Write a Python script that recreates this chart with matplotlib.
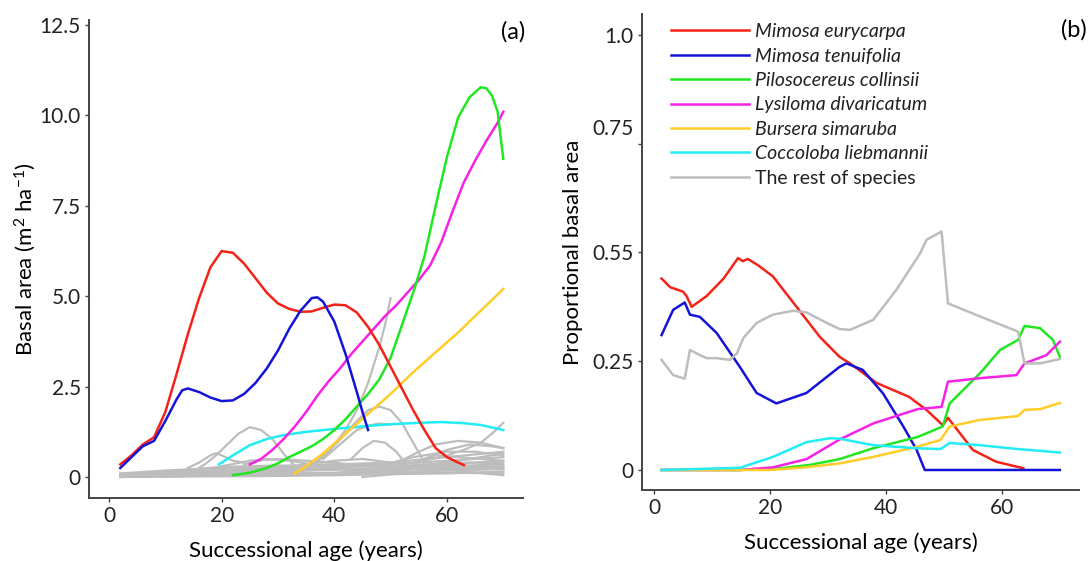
import numpy as np
import matplotlib.pyplot as plt
import matplotlib.transforms as mtransforms

plt.rcParams['font.family'] = ['Lato', 'DejaVu Sans']
plt.rcParams['mathtext.fontset'] = 'custom'
plt.rcParams['mathtext.rm'] = 'Lato'
plt.rcParams['mathtext.it'] = 'Lato:italic'

# ---------------- panel (a): basal area (m2/ha) ----------------
red_age = [2, 4, 6, 8, 10, 12, 14, 16, 18, 20, 22, 24, 26, 28, 30, 32, 34, 36, 38, 40, 42,
           44, 46, 48, 50, 52, 54, 56, 58, 60, 62, 63]
red_ba = [0.35, 0.6, 0.9, 1.1, 1.8, 2.85, 3.95, 4.95, 5.8, 6.25, 6.2, 5.9, 5.5, 5.1, 4.8,
          4.65, 4.57, 4.58, 4.68, 4.77, 4.75, 4.55, 4.15, 3.65, 3.05, 2.45, 1.85, 1.3,
          0.8, 0.55, 0.4, 0.33]
blue_age = [2, 4, 6, 8, 10, 12, 13, 14, 16, 18, 20, 22, 24, 26, 28, 30, 32, 34, 36, 37, 38,
            40, 42, 44, 45, 46]
blue_ba = [0.25, 0.55, 0.85, 1.0, 1.55, 2.15, 2.4, 2.45, 2.35, 2.2, 2.1, 2.12, 2.3, 2.6, 3.0,
           3.5, 4.1, 4.6, 4.95, 4.97, 4.85, 4.3, 3.4, 2.35, 1.8, 1.3]
green_age = [22, 25, 28, 30, 32, 34, 36, 38, 40, 42, 44, 46, 48, 50, 52, 54, 56, 58, 60, 62,
             64, 66, 67, 68, 69, 70]
green_ba = [0.05, 0.12, 0.25, 0.38, 0.55, 0.7, 0.85, 1.05, 1.3, 1.6, 1.95, 2.3, 2.7, 3.3, 4.2,
            5.1, 6.1, 7.5, 8.85, 9.95, 10.5, 10.78, 10.75, 10.55, 10.1, 8.8]
mag_age = [25, 27, 29, 31, 33, 35, 37, 39, 41, 43, 45, 47, 49, 51, 53, 55, 57, 59, 61, 63,
           65, 67, 69, 70]
mag_ba = [0.35, 0.5, 0.75, 1.05, 1.4, 1.8, 2.25, 2.65, 3.0, 3.4, 3.75, 4.1, 4.45, 4.75, 5.1,
          5.45, 5.85, 6.5, 7.35, 8.15, 8.75, 9.3, 9.8, 10.1]
yel_age = [33, 35, 38, 42, 46, 50, 54, 58, 62, 66, 70]
yel_ba = [0.1, 0.3, 0.65, 1.2, 1.75, 2.3, 2.9, 3.45, 4.0, 4.6, 5.2]
cyan_age = [19.5, 22, 25, 28, 31, 35, 40, 45, 50, 55, 59, 63, 66, 70]
cyan_ba = [0.35, 0.6, 0.88, 1.05, 1.16, 1.25, 1.33, 1.4, 1.46, 1.5, 1.52, 1.49, 1.44, 1.3]

# the rest of species (grey), one (ages, values) pair per species
rest_a = [
    ([15, 17, 19, 21, 23, 25, 27, 29, 31, 33], [0.15, 0.35, 0.6, 0.9, 1.2, 1.38, 1.3, 1.05, 0.65, 0.3]),
    ([14, 16, 18, 19, 20, 22, 24], [0.25, 0.4, 0.6, 0.66, 0.6, 0.45, 0.4]),
    ([34, 37, 40, 42, 44, 46, 48, 49, 50], [0.2, 0.45, 0.9, 1.3, 1.85, 2.6, 3.6, 4.2, 4.95]),
    ([36, 39, 42, 44, 46, 48, 50, 52, 54, 56], [0.3, 0.7, 1.2, 1.55, 1.85, 1.95, 1.85, 1.5, 0.95, 0.4]),
    ([38, 41, 44, 46, 48, 50], [0.5, 0.9, 1.3, 1.42, 1.48, 1.45]),
    ([43, 45, 47, 49, 51, 53], [0.5, 0.8, 1.0, 0.95, 0.7, 0.3]),
    ([56, 60, 63, 66, 68, 70], [0.45, 0.6, 0.75, 0.95, 1.2, 1.5]),
    ([50, 55, 58, 62, 66, 70], [0.3, 0.7, 0.9, 1.0, 0.95, 0.8]),
    ([52, 56, 60, 64, 68, 70], [0.2, 0.5, 0.75, 0.9, 0.85, 0.8]),
    ([48, 54, 60, 65, 70], [0.3, 0.55, 0.7, 0.7, 0.6]),
    ([54, 58, 62, 66, 70], [0.4, 0.6, 0.55, 0.5, 0.45]),
    ([20, 25, 30, 35, 40, 45], [0.3, 0.45, 0.5, 0.45, 0.4, 0.3]),
    ([24, 28, 32, 36, 40], [0.35, 0.5, 0.45, 0.35, 0.2]),
    ([30, 35, 40, 45, 50, 55], [0.2, 0.35, 0.45, 0.5, 0.4, 0.25]),
    ([2, 10, 20, 30, 40, 50, 60, 70], [0.02, 0.05, 0.1, 0.15, 0.2, 0.25, 0.3, 0.35]),
    ([2, 10, 20, 30, 40, 50, 60, 70], [0.0, 0.02, 0.05, 0.08, 0.12, 0.18, 0.25, 0.3]),
    ([2, 10, 20, 30, 40, 50, 60, 70], [0.05, 0.1, 0.2, 0.25, 0.3, 0.35, 0.45, 0.55]),
    ([2, 10, 20, 30, 40, 50, 60, 70], [0.0, 0.01, 0.02, 0.03, 0.05, 0.08, 0.1, 0.15]),
    ([2, 10, 20, 30, 40, 50, 60, 70], [0.08, 0.15, 0.28, 0.32, 0.25, 0.2, 0.4, 0.65]),
    ([2, 10, 20, 30, 40, 50, 60, 70], [0.03, 0.06, 0.12, 0.2, 0.22, 0.15, 0.12, 0.1]),
    ([2, 10, 20, 30, 40, 50, 60, 70], [0.01, 0.03, 0.07, 0.1, 0.1, 0.12, 0.18, 0.22]),
    ([2, 10, 20, 30, 40, 50, 60, 70], [0.06, 0.12, 0.18, 0.22, 0.28, 0.3, 0.2, 0.05]),
    ([2, 10, 20, 30, 40, 50, 60, 70], [0.1, 0.18, 0.25, 0.3, 0.35, 0.28, 0.25, 0.22]),
    ([2, 8, 16, 24, 32, 40], [0.0, 0.04, 0.1, 0.18, 0.15, 0.05]),
    ([10, 20, 30, 40, 50, 60, 70], [0.0, 0.1, 0.3, 0.35, 0.4, 0.55, 0.7]),
    ([30, 40, 50, 60, 70], [0.05, 0.1, 0.2, 0.35, 0.45]),
    ([40, 48, 56, 64, 70], [0.1, 0.25, 0.35, 0.4, 0.38]),
    ([45, 52, 58, 64, 70], [0.0, 0.1, 0.2, 0.25, 0.28]),
]

# ---------------- panel (b): proportional basal area ----------------
red_bage = [1.3, 2.8, 5.0, 5.6, 6.5, 9.1, 12, 14.5, 15.3, 16.2, 18, 20.5, 24, 28.6, 32, 33.8,
            38.4, 44, 47, 49.8, 50.7, 55, 59, 63.7]
red_prop = [0.44, 0.42, 0.41, 0.40, 0.375, 0.40, 0.44, 0.487, 0.48, 0.485, 0.47, 0.445, 0.385,
            0.306, 0.26, 0.245, 0.2, 0.168, 0.138, 0.103, 0.12, 0.046, 0.019, 0.004]
blue_bage = [1.3, 3.3, 5.3, 6.2, 7.9, 10.8, 14.8, 17.7, 21.1, 26.3, 32, 33.2, 36, 39.5, 43,
             45.3, 46.7, 70]
blue_prop = [0.31, 0.368, 0.385, 0.357, 0.352, 0.315, 0.237, 0.177, 0.153, 0.177, 0.237, 0.245,
             0.23, 0.176, 0.1, 0.046, 0.0, 0.0]
grey_bage = [1.3, 3.3, 5.3, 6.2, 7.9, 9.1, 10.8, 13.1, 14.3, 15.4, 17.7, 20.5, 24, 26.3, 29.8,
             32, 33.8, 37.8, 41.8, 45.9, 47, 49.6, 50.7, 56.2, 62.8, 63.9, 66.6, 70]
grey_prop = [0.253, 0.218, 0.21, 0.276, 0.264, 0.257, 0.257, 0.253, 0.268, 0.303, 0.338, 0.357,
             0.366, 0.362, 0.338, 0.324, 0.322, 0.345, 0.414, 0.498, 0.529, 0.548, 0.383, 0.353,
             0.318, 0.245, 0.245, 0.255]
green_bage = [1.3, 15, 22, 27, 32, 37.8, 45.5, 49.8, 51, 56.2, 59.7, 62.8, 63.9, 66.6, 68.8, 70]
green_prop = [0.0, 0.0, 0.004, 0.012, 0.025, 0.05, 0.076, 0.1, 0.153, 0.222, 0.276, 0.299, 0.331,
              0.326, 0.299, 0.26]
mag_bage = [1.3, 14.8, 20.5, 26.3, 32, 37.8, 45.5, 49.6, 50.7, 56.2, 62.5, 63.9, 67.7, 70]
mag_prop = [0.0, 0.0, 0.006, 0.025, 0.07, 0.107, 0.14, 0.145, 0.203, 0.211, 0.218, 0.245, 0.264,
            0.295]
yel_bage = [1.3, 20, 26, 32, 37.8, 45.3, 49.4, 51, 56.2, 62.8, 63.9, 66.6, 70]
yel_prop = [0.0, 0.0, 0.006, 0.015, 0.03, 0.053, 0.069, 0.1, 0.115, 0.124, 0.138, 0.14, 0.154]
cyan_bage = [1.3, 14.8, 20.5, 26.3, 30.3, 32, 37.8, 45.3, 49.4, 51, 56.2, 62.8, 66.6, 70]
cyan_prop = [0.0, 0.005, 0.03, 0.064, 0.073, 0.072, 0.057, 0.05, 0.048, 0.062, 0.057, 0.048,
             0.044, 0.04]

species = ['Mimosa eurycarpa', 'Mimosa tenuifolia', 'Pilosocereus collinsii',
           'Lysiloma divaricatum', 'Bursera simaruba', 'Coccoloba liebmannii', 'The rest of species']
colors = ['#f52218', '#1414d8', '#22e622', '#f522e6', '#ffcc2a', '#22ecf5', '#bdbdbd']

yticks_b = [0, 0.25, 0.5, 0.75, 1.0]
yticklabels_b = ['0', '0.25', '0.55', '0.75', '1.0']

fig = plt.figure(figsize=(10.89, 5.61), dpi=100)
axa = fig.add_axes([89/1089, 1-498/561, 434/1089, 478/561])
axb = fig.add_axes([642/1089, 1-490/561, 437/1089, 476/561])

for ages, vals in rest_a:
    axa.plot(ages, vals, color=colors[6], lw=1.6)
axa.plot(cyan_age, cyan_ba, color=colors[5], lw=1.8)
axa.plot(yel_age, yel_ba, color=colors[4], lw=1.8)
axa.plot(mag_age, mag_ba, color=colors[3], lw=1.8)
axa.plot(green_age, green_ba, color=colors[2], lw=1.8)
axa.plot(red_age, red_ba, color=colors[0], lw=1.8)
axa.plot(blue_age, blue_ba, color=colors[1], lw=1.8)

axa.set_xlim(-3.55, 73.5)
axa.set_ylim(-0.58, 12.64)
axa.set_xticks([0, 20, 40, 60])
axa.set_yticks([0, 2.5, 5.0, 7.5, 10.0, 12.5])
axa.set_yticklabels(['0', '2.5', '5.0', '7.5', '10.0', '12.5'])
axa.set_xlabel('Successional age (years)', fontsize=16, labelpad=10)
axa.set_ylabel('Basal area (m$^2$ ha$^{-1}$)', fontsize=16, labelpad=1)
axa.text(1.005, 0.998, '(a)', transform=axa.transAxes, fontsize=17, ha='right', va='top')

lines_b = []
for ages, vals, c in [(red_bage, red_prop, colors[0]), (blue_bage, blue_prop, colors[1]),
                      (green_bage, green_prop, colors[2]), (mag_bage, mag_prop, colors[3]),
                      (yel_bage, yel_prop, colors[4]), (cyan_bage, cyan_prop, colors[5]),
                      (grey_bage, grey_prop, colors[6])]:
    ln, = axb.plot(ages, vals, color=c, lw=1.8)
    lines_b.append(ln)
axb.set_xlim(-2.07, 73.3)
axb.set_ylim(-0.046, 1.048)
axb.set_xticks([0, 20, 40, 60])
axb.set_yticks(yticks_b)
# the "0.75" label sits a little above its tick in the original, drawn separately
axb.set_yticklabels([l if i != 3 else '' for i, l in enumerate(yticklabels_b)])
off = mtransforms.ScaledTranslation(-8.5/100, 15/100, fig.dpi_scale_trans)
axb.text(0, yticks_b[3], yticklabels_b[3], fontsize=15, color='#222222', ha='right', va='center',
         transform=mtransforms.blended_transform_factory(axb.transAxes, axb.transData) + off)
axb.set_xlabel('Successional age (years)', fontsize=16, labelpad=10)
axb.set_ylabel('Proportional basal area', fontsize=16, labelpad=7)
axb.text(1.018, 0.99, '(b)', transform=axb.transAxes, fontsize=17, ha='right', va='top')

leg = axb.legend(lines_b, species, loc='upper left', bbox_to_anchor=(0.04, 1.005),
                 frameon=False, fontsize=14, handlelength=4.0, labelspacing=0.38,
                 handletextpad=0.3, borderaxespad=0.2)
for i, t in enumerate(leg.get_texts()):
    if i < 6:
        t.set_style('italic')
    t.set_color('#222222')

for ax in (axa, axb):
    for s in ('top', 'right'):
        ax.spines[s].set_visible(False)
    for s in ('left', 'bottom'):
        ax.spines[s].set_color('#444444')
        ax.spines[s].set_linewidth(1.4)
    ax.tick_params(axis='both', labelsize=15, length=3, width=1, color='#444444',
                   labelcolor='#222222', pad=3)

fig.savefig('out.png', dpi=100)
